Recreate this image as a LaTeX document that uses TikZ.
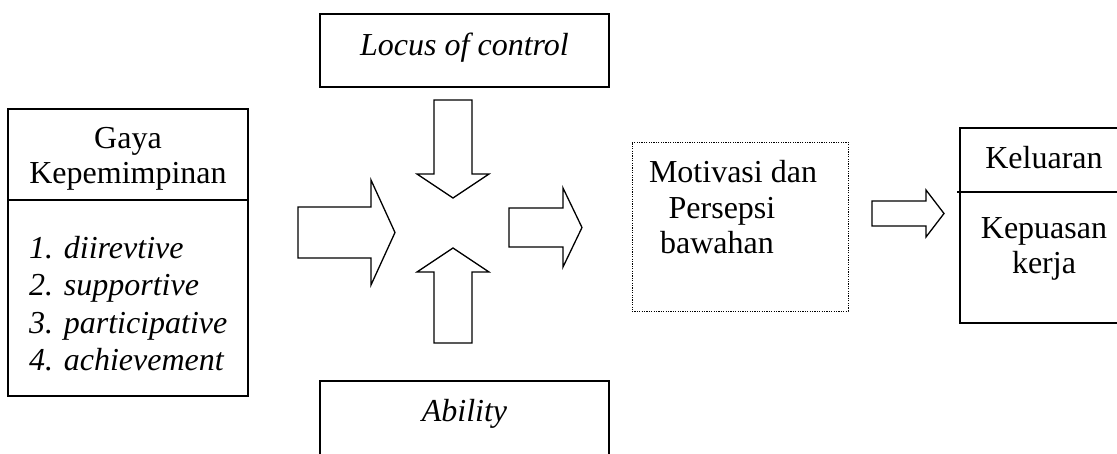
\documentclass[tikz,border=0pt]{standalone}
\usepackage{fontspec}
\setmainfont{Liberation Serif}
\begin{document}
\begin{tikzpicture}[x=1pt,y=-1pt,
  box/.style={draw,line width=1.3pt,inner sep=0pt},
  dotbox/.style={draw,line width=1pt,dash pattern=on 1.2pt off 1.2pt,inner sep=0pt},
  txt/.style={font=\fontsize{32}{36}\selectfont, inner sep=0pt, anchor=base},
  itxt/.style={font=\fontsize{32}{36}\selectfont\itshape, inner sep=0pt, anchor=base},
  blk/.style={draw, line width=1.3pt, line join=miter}]
\useasboundingbox (0,0) rectangle (1117,453);
% left box
\node[box, minimum width=240pt, minimum height=287pt] (gaya) at (128,252.5) {};
\coordinate (gdiv) at (0,200);
\draw[line width=1.3pt] (gaya.west |- gdiv) -- (gaya.east |- gdiv);
\node[txt] (g1) at (128,148) {Gaya};
\node[txt] (g2) at (128,183) {Kepemimpinan};
\node[itxt, anchor=base west] (i1) at (29,258) {1. diirevtive};
\node[itxt, anchor=base west] (i2) at (29,295) {2. supportive};
\node[itxt, anchor=base west] (i3) at (29,333) {3. participative};
\node[itxt, anchor=base west] (i4) at (29,370) {4. achievement};
% locus box
\node[box, minimum width=289pt, minimum height=73pt] (locus) at (464.5,50.5) {};
\node[itxt] (lt) at (464.5,55) {Locus of control};
% ability box
\node[box, minimum width=289pt, minimum height=89pt] (ability) at (464.5,425.5) {};
\node[itxt] (at) at (464.5,421) {Ability};
% dotted box
\node[dotbox, minimum width=216pt, minimum height=169pt] (motiv) at (740,226.5) {};
\node[txt] (m1) at (733,182) {Motivasi dan};
\node[txt] (m2) at (722,218) {Persepsi};
\node[txt] (m3) at (717,253) {bawahan};
% right box
\node[box, minimum width=168pt, minimum height=195pt] (kel) at (1044,225.5) {};
\coordinate (kdiv) at (957,192);
\draw[line width=1.3pt] (kdiv) -- (kel.east |- kdiv);
\node[txt] (k1) at (1044,168) {Keluaran};
\node[txt] (k2) at (1044,238) {Kepuasan};
\node[txt] (k3) at (1044,273) {kerja};
% block arrows
\draw[blk] (298,207)--(371,207)--(371,180)--(395,232.5)--(371,285)--(371,258)--(298,258)--cycle;
\draw[blk] (434,100)--(472,100)--(472,174)--(489,174)--(453,198)--(417,174)--(434,174)--cycle;
\draw[blk] (434,343)--(472,343)--(472,272)--(489,272)--(453,248)--(417,272)--(434,272)--cycle;
\draw[blk] (509,208)--(563,208)--(563,188)--(582,227.5)--(563,267)--(563,247)--(509,247)--cycle;
\draw[blk] (872,201)--(926,201)--(926,190)--(944,213.5)--(926,237)--(926,226)--(872,226)--cycle;
\end{tikzpicture}
\end{document}
